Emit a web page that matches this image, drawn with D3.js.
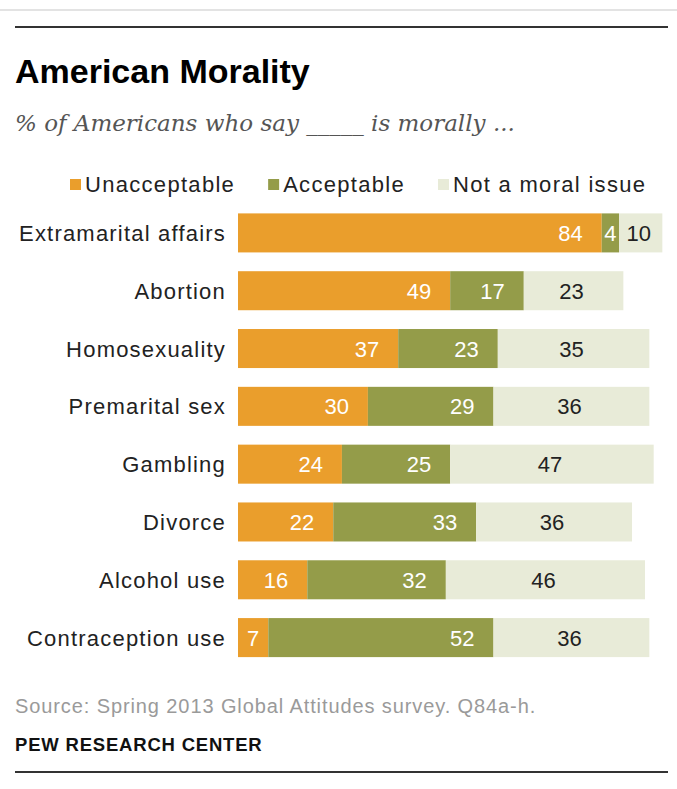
<!DOCTYPE html>
<html>
<head>
<meta charset="utf-8">
<script src="https://cdn.jsdelivr.net/npm/d3@7"></script>
<style>
  body { margin: 0; background: #fff; }
  text { font-family: "Liberation Sans", Arial, sans-serif; }
</style>
</head>
<body>
<svg id="chart"></svg>
<script>
// data
const categories = ["Extramarital affairs", "Abortion", "Homosexuality", "Premarital sex",
                    "Gambling", "Divorce", "Alcohol use", "Contraception use"];
const unacceptable = [84, 49, 37, 30, 24, 22, 16, 7];
const acceptable   = [4, 17, 23, 29, 25, 33, 32, 52];
const notMoral     = [10, 23, 35, 36, 47, 36, 46, 36];
const seriesNames  = ["Unacceptable", "Acceptable", "Not a moral issue"];
const colors       = ["#EA9E2C", "#949C49", "#E8EBD8"];
const labelColors  = ["#fff", "#fff", "#222"];

const W = 677, H = 789;
const svg = d3.select("#chart").attr("width", W).attr("height", H);

// top rules
svg.append("line").attr("x1", 0).attr("x2", W).attr("y1", 10).attr("y2", 10)
    .attr("stroke", "#e3e3e3").attr("stroke-width", 2);
svg.append("line").attr("x1", 15).attr("x2", 668).attr("y1", 27).attr("y2", 27)
    .attr("stroke", "#333").attr("stroke-width", 2);

svg.append("text").attr("x", 15).attr("y", 83)
    .style("font-size", "34px").style("font-weight", "bold").attr("fill", "#000")
    .text("American Morality");

svg.append("text").attr("x", 15).attr("y", 131)
    .style("font-family", "'DejaVu Serif', Georgia, serif")
    .style("font-style", "italic").style("font-size", "23px").attr("fill", "#555")
    .text("% of Americans who say _____ is morally ...");

// legend
const legend = svg.append("g").attr("transform", "translate(70,0)");
let lx = 0;
seriesNames.forEach((name, i) => {
    legend.append("rect").attr("x", lx).attr("y", 179).attr("width", 11).attr("height", 11)
        .attr("fill", colors[i]);
    const t = legend.append("text").attr("x", lx + 15).attr("y", 192)
        .style("font-size", "22px").style("letter-spacing", "1.3px").attr("fill", "#222")
        .text(name);
    lx += 15 + t.node().getComputedTextLength() + 33;
});

// scales
const x = d3.scaleLinear().domain([0, 100]).range([238, 671]);
const y = d3.scaleBand().domain(categories).range([204, 666.5])
    .paddingInner(0.325).paddingOuter(0.1625);

const stackData = categories.map((c, i) => ({cat: c, s0: unacceptable[i], s1: acceptable[i], s2: notMoral[i]}));
const stack = d3.stack().keys(["s0", "s1", "s2"])(stackData);

const layers = svg.selectAll("g.layer").data(stack).enter().append("g")
    .attr("class", "layer").attr("fill", (d, i) => colors[i]);

layers.selectAll("rect").data(d => d).enter().append("rect")
    .attr("x", d => x(d[0]))
    .attr("y", d => y(d.data.cat))
    .attr("width", d => x(d[1]) - x(d[0]))
    .attr("height", y.bandwidth());

// value labels: right-aligned in wide segments, centered otherwise; last series centered
layers.each(function(layer, li) {
    d3.select(this).selectAll("text").data(layer).enter().append("text")
        .attr("x", d => {
            const w = x(d[1]) - x(d[0]);
            if (li < 2 && w >= 40) return x(d[1]) - 19;
            return (x(d[0]) + x(d[1])) / 2 - (li == 2 ? 2 : 0);
        })
        .attr("y", d => y(d.data.cat) + y.bandwidth() / 2 + 8)
        .attr("text-anchor", d => (li < 2 && x(d[1]) - x(d[0]) >= 40) ? "end" : "middle")
        .attr("fill", labelColors[li])
        .style("font-size", "22px")
        .text(d => d[1] - d[0]);
});

// category labels
svg.append("g").selectAll("text").data(categories).enter().append("text")
    .attr("x", 226)
    .attr("y", d => y(d) + y.bandwidth() / 2 + 8)
    .attr("text-anchor", "end")
    .style("font-size", "22px").style("letter-spacing", "1.2px").attr("fill", "#222")
    .text(d => d);

// footer
svg.append("text").attr("x", 15).attr("y", 713)
    .style("font-size", "20px").style("letter-spacing", "0.9px").attr("fill", "#9a9a9a")
    .text("Source: Spring 2013 Global Attitudes survey. Q84a-h.");
svg.append("text").attr("x", 15).attr("y", 751)
    .style("font-size", "18.5px").style("letter-spacing", "0.8px")
    .style("font-weight", "bold").attr("fill", "#111")
    .text("PEW RESEARCH CENTER");

svg.append("line").attr("x1", 15).attr("x2", 668).attr("y1", 772).attr("y2", 772)
    .attr("stroke", "#333").attr("stroke-width", 2);
</script>
</body>
</html>
